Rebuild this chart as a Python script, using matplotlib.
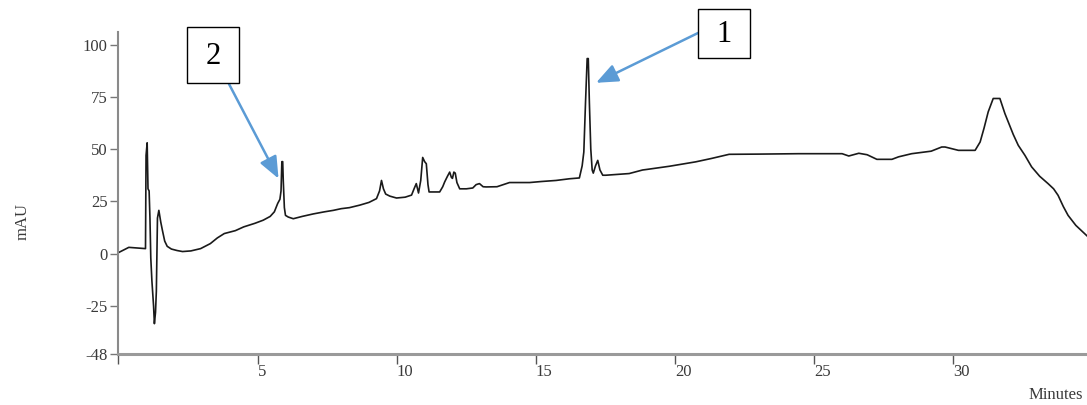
import numpy as np
import matplotlib.pyplot as plt
from matplotlib.patches import Rectangle

# --- Datos del cromatograma (minutos, mAU) ---
minutos = [0.0, 0.37, 0.97, 0.99, 1.03, 1.06, 1.10, 1.13, 1.16, 1.20, 1.26, 1.29, 1.33, 1.36,
           1.40, 1.45, 1.52, 1.58, 1.66, 1.75, 1.9, 2.1, 2.3, 2.6, 2.95, 3.3, 3.55, 3.8,
           4.2, 4.5, 4.9, 5.2, 5.45, 5.6, 5.72, 5.8, 5.84, 5.87, 5.90, 5.92, 5.96, 6.0,
           6.1, 6.28, 6.6, 7.0, 7.4, 7.72, 8.0, 8.3, 8.67, 9.0, 9.27, 9.38, 9.45, 9.52,
           9.6, 9.75, 9.99, 10.3, 10.53, 10.62, 10.7, 10.78, 10.86, 10.93, 11.0, 11.06,
           11.12, 11.16, 11.54, 11.65, 11.72, 11.82, 11.9, 11.96, 12.0, 12.05, 12.1,
           12.16, 12.26, 12.5, 12.73, 12.85, 12.97, 13.1, 13.21, 13.6, 14.05, 14.77,
           15.2, 15.72, 16.2, 16.56, 16.66, 16.72, 16.78, 16.84, 16.88, 16.92, 16.97,
           17.02, 17.06, 17.14, 17.22, 17.3, 17.4, 17.51, 18.35, 18.83, 19.0, 19.8,
           20.74, 21.3, 21.94, 23.0, 24.44, 26.0, 26.24, 26.6, 26.9, 27.25, 27.79,
           28.03, 28.5, 29.2, 29.58, 29.7, 29.94, 30.18, 30.78, 30.96, 31.1, 31.25,
           31.43, 31.67, 31.85, 31.97, 32.15, 32.33, 32.57, 32.81, 33.1, 33.4, 33.6,
           33.76, 33.95, 34.12, 34.4, 34.8]
mau = [0.5, 3.0, 2.4, 47, 53, 31, 30, 17, -2, -13, -25, -33.5, -28, -18,
       17, 20.7, 15, 11, 6, 3.5, 2.2, 1.5, 1.0, 1.3, 2.4, 4.8, 7.5, 9.6,
       11, 12.8, 14.5, 16, 17.8, 20, 24, 26, 30, 44, 44, 35, 22, 18.3,
       17.5, 16.7, 17.8, 19, 20, 20.7, 21.5, 22, 23.2, 24.5, 26.3, 30, 35, 31,
       28.5, 27.5, 26.6, 27, 28, 31, 33.5, 29, 35, 46, 44, 43,
       33, 29.5, 29.5, 32, 34.3, 37, 39, 36.5, 36, 39, 38.5,
       34, 31, 31, 31.4, 33, 33.5, 32, 31.9, 32, 34, 34,
       34.5, 35, 35.8, 36.2, 42, 48.6, 72, 93.3, 93.3, 72, 50,
       40, 38.5, 42, 44.6, 40, 37.5, 37.5, 38.3, 40, 40.3, 41.8,
       43.9, 45.5, 47.5, 47.6, 47.8, 47.8, 46.7, 48, 47.3, 45.1, 45.1,
       46.3, 47.8, 49, 51, 51, 50.2, 49.4, 49.4, 53.4, 60, 67.8,
       74.2, 74.2, 67, 63, 57, 51.8, 47, 41.5, 37, 33.5, 31,
       27.9, 22.5, 18.3, 13.5, 8.5]

y_ticks = [-48, -25, 0, 25, 50, 75, 100]
x_ticks = [0, 5, 10, 15, 20, 25, 30]
x_labels = ['', '5', '10', '15', '20', '25', '30']

# picos señalados: (etiqueta, minuto, mAU)
picos = [('1', 17.16, 81.7), ('2', 5.75, 35.9)]

plt.rcParams['font.family'] = ['Liberation Serif', 'DejaVu Serif']
plt.rcParams['axes.unicode_minus'] = False

W, H = 1087, 405
fig = plt.figure(figsize=(W / 100, H / 100), dpi=100)
ax = fig.add_axes([118.5 / W, 1 - 354 / H, (1087 - 118.5) / W, (354 - 32) / H])

ax.plot(minutos, mau, color='#1a1a1a', lw=1.2)

ax.set_xlim(0, 34.8)
ax.set_ylim(-48, 106)
ax.set_yticks(y_ticks)
ax.set_xticks(x_ticks)
ax.set_xticklabels(x_labels)
for lbl in ax.get_xticklabels():
    lbl.set_ha('left')

for s in ['top', 'right']:
    ax.spines[s].set_visible(False)
ax.spines['left'].set_color('#8a8a8a')
ax.spines['left'].set_linewidth(1.5)
ax.spines['bottom'].set_color('#9a9a9a')
ax.spines['bottom'].set_linewidth(2.2)
ax.tick_params(axis='y', length=6, width=1, color='#777777', labelsize=12,
               labelcolor='#3a3a3a', pad=2)
ax.tick_params(axis='x', length=7, width=1, color='#555555', labelsize=12,
               labelcolor='#3a3a3a', pad=0)

fig.text(23 / W, 1 - 222 / H, 'mAU', rotation=90, ha='center', va='center',
         fontsize=12, color='#3a3a3a')
fig.text(1083 / W, 1 - 395 / H, 'Minutes', ha='right', va='center',
         fontsize=12, color='#3a3a3a')

# --- Cajas con flechas ---
cajas = {'1': (698, 9, 52, 49, (698, 33)), '2': (187, 27, 52, 56, (229, 84))}
for nombre, xp, yp in picos:
    x0, y0, w, h, inicio = cajas[nombre]
    fig.patches.append(Rectangle((x0 / W, 1 - (y0 + h) / H), w / W, h / H,
                                 transform=fig.transFigure, fc='white',
                                 ec='black', lw=1.0))
    fig.text((x0 + w / 2) / W, 1 - (y0 + h / 2 + 1) / H, nombre, ha='center',
             va='center', fontsize=22, color='black')
    ax.annotate('', xy=(xp, yp), xycoords='data',
                xytext=(inicio[0] / W, 1 - inicio[1] / H),
                textcoords='figure fraction', annotation_clip=False,
                arrowprops=dict(arrowstyle='-|>,head_length=0.6,head_width=0.25',
                                color='#5b9bd5', lw=1.8, mutation_scale=22,
                                shrinkA=0, shrinkB=0))

plt.savefig('out.png', dpi=100)
